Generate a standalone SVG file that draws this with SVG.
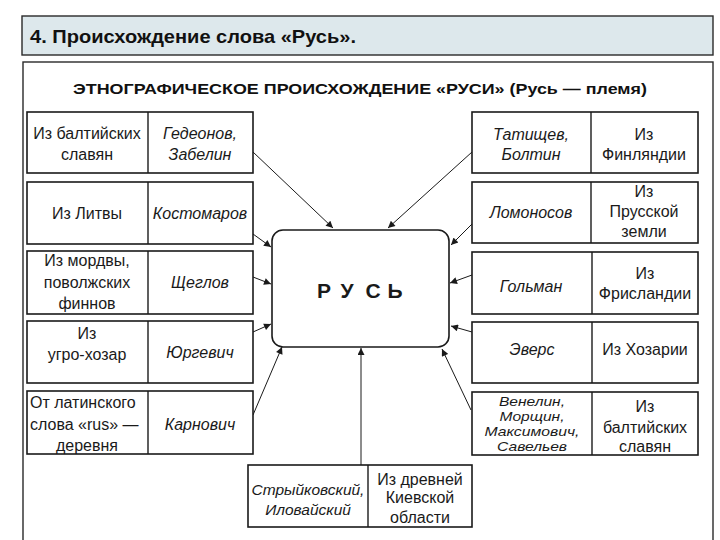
<svg xmlns="http://www.w3.org/2000/svg" width="720" height="540" viewBox="0 0 720 540">
<style>
.box{fill:#fff;stroke:#1a1a1a;stroke-width:1.6}
.div{stroke:#1a1a1a;stroke-width:1.4}
.t{font-family:"Liberation Sans",Arial,sans-serif;font-size:16px;fill:#1a1a1a;text-anchor:middle}
.i{font-style:italic}
.s{font-size:13px}
.con{stroke:#1a1a1a;stroke-width:1;fill:none;marker-end:url(#ah)}
</style>
<defs>
<marker id="ah" viewBox="0 0 10 10" refX="10" refY="5" markerWidth="9" markerHeight="7" markerUnits="userSpaceOnUse" orient="auto">
<path d="M0,0 L10,5 L0,10 z" fill="#1a1a1a"/>
</marker>
</defs>
<rect width="720" height="540" fill="#fff"/>
<g id="header">
<rect x="22" y="16" width="691" height="39" fill="#dde8ec" stroke="#2a2a2a" stroke-width="1.4"/>
<text x="30" y="43" font-family="'Liberation Sans',Arial,sans-serif" font-size="19" font-weight="bold" fill="#111" textLength="326" lengthAdjust="spacingAndGlyphs">4. Происхождение слова «Русь».</text>
</g>
<g id="panel">
<rect x="23" y="62" width="690" height="490" fill="#fff" stroke="#2a2a2a" stroke-width="1.4"/>
<text x="360" y="94" font-family="'Liberation Sans',Arial,sans-serif" font-size="15" font-weight="bold" fill="#111" text-anchor="middle" textLength="574" lengthAdjust="spacingAndGlyphs">ЭТНОГРАФИЧЕСКОЕ ПРОИСХОЖДЕНИЕ «РУСИ» (Русь — племя)</text>
</g>
<g id="connectors">
<line class="con" x1="253" y1="152" x2="333" y2="228"/>
<line class="con" x1="253" y1="234" x2="271" y2="247"/>
<line class="con" x1="253" y1="277" x2="271" y2="284"/>
<line class="con" x1="253" y1="332" x2="271" y2="324"/>
<line class="con" x1="253" y1="415" x2="282" y2="347"/>
<line class="con" x1="361" y1="465" x2="361" y2="348"/>
<line class="con" x1="472" y1="152" x2="388" y2="228"/>
<line class="con" x1="472" y1="224" x2="451" y2="245"/>
<line class="con" x1="472" y1="275" x2="450" y2="283"/>
<line class="con" x1="472" y1="332" x2="451" y2="326"/>
<line class="con" x1="471" y1="410" x2="442" y2="349"/>
</g>
<g id="rus">
<rect x="272" y="230" width="177" height="117" rx="11" class="box"/>
<text class="t" x="324 347 373 395" y="298" font-weight="bold" style="font-size:21px">РУСЬ</text>
</g>
<g id="l1">
<rect x="27" y="112" width="226" height="61" class="box"/>
<line class="div" x1="148" y1="112" x2="148" y2="173"/>
<text class="t" x="87" y="139">Из балтийских</text>
<text class="t" x="87" y="160">славян</text>
<text class="t i" x="200" y="139">Гедеонов,</text>
<text class="t i" x="200" y="160">Забелин</text>
</g>
<g id="l2">
<rect x="27" y="182" width="226" height="62" class="box"/>
<line class="div" x1="148" y1="182" x2="148" y2="244"/>
<text class="t" x="87" y="219">Из Литвы</text>
<text class="t i" x="200" y="219">Костомаров</text>
</g>
<g id="l3">
<rect x="27" y="251" width="226" height="63" class="box"/>
<line class="div" x1="148" y1="251" x2="148" y2="314"/>
<text class="t" x="87" y="266">Из мордвы,</text>
<text class="t" x="87" y="288">поволжских</text>
<text class="t" x="87" y="309">финнов</text>
<text class="t i" x="200" y="288">Щеглов</text>
</g>
<g id="l4">
<rect x="27" y="321" width="226" height="62" class="box"/>
<line class="div" x1="148" y1="321" x2="148" y2="383"/>
<text class="t" x="87" y="339">Из</text>
<text class="t" x="87" y="360">угро-хозар</text>
<text class="t i" x="200" y="358">Юргевич</text>
</g>
<g id="l5">
<rect x="27" y="391" width="226" height="63" class="box"/>
<line class="div" x1="148" y1="391" x2="148" y2="454"/>
<text class="t" x="30" y="408" style="text-anchor:start">От латинского</text>
<text class="t" x="30" y="430" style="text-anchor:start">слова «rus» —</text>
<text class="t" x="87" y="451">деревня</text>
<text class="t i" x="200" y="430">Карнович</text>
</g>
<g id="r1">
<rect x="472" y="112" width="226" height="61" class="box"/>
<line class="div" x1="591" y1="112" x2="591" y2="173"/>
<text class="t i" x="531" y="140">Татищев,</text>
<text class="t i" x="531" y="160">Болтин</text>
<text class="t" x="644" y="140">Из</text>
<text class="t" x="644" y="160">Финляндии</text>
</g>
<g id="r2">
<rect x="472" y="182" width="226" height="61" class="box"/>
<line class="div" x1="591" y1="182" x2="591" y2="243"/>
<text class="t i" x="531" y="218">Ломоносов</text>
<text class="t" x="644" y="197">Из</text>
<text class="t" x="644" y="217">Прусской</text>
<text class="t" x="644" y="237">земли</text>
</g>
<g id="r3">
<rect x="472" y="252" width="226" height="62" class="box"/>
<line class="div" x1="592" y1="252" x2="592" y2="314"/>
<text class="t i" x="531" y="292">Гольман</text>
<text class="t" x="645" y="279">Из</text>
<text class="t" x="645" y="299">Фрисландии</text>
</g>
<g id="r4">
<rect x="472" y="322" width="226" height="61" class="box"/>
<line class="div" x1="592" y1="322" x2="592" y2="383"/>
<text class="t i" x="532" y="355">Эверс</text>
<text class="t" x="645" y="355">Из Хозарии</text>
</g>
<g id="r5">
<rect x="472" y="392" width="226" height="63" class="box"/>
<line class="div" x1="592" y1="392" x2="592" y2="455"/>
<text class="t i s" x="532" y="406" textLength="66" lengthAdjust="spacingAndGlyphs">Венелин,</text>
<text class="t i s" x="532" y="421" textLength="65" lengthAdjust="spacingAndGlyphs">Морщин,</text>
<text class="t i s" x="532" y="436" textLength="95" lengthAdjust="spacingAndGlyphs">Максимович,</text>
<text class="t i s" x="532" y="451" textLength="70" lengthAdjust="spacingAndGlyphs">Савельев</text>
<text class="t" x="645" y="412">Из</text>
<text class="t" x="645" y="433">балтийских</text>
<text class="t" x="645" y="452">славян</text>
</g>
<g id="b1">
<rect x="248" y="465" width="224" height="62" class="box"/>
<line class="div" x1="368" y1="465" x2="368" y2="527"/>
<text class="t i" x="308" y="495" style="font-size:15.5px">Стрыйковский,</text>
<text class="t i" x="308" y="515" style="font-size:15.5px">Иловайский</text>
<text class="t" x="420" y="485">Из древней</text>
<text class="t" x="420" y="503">Киевской</text>
<text class="t" x="420" y="523">области</text>
</g>
</svg>
